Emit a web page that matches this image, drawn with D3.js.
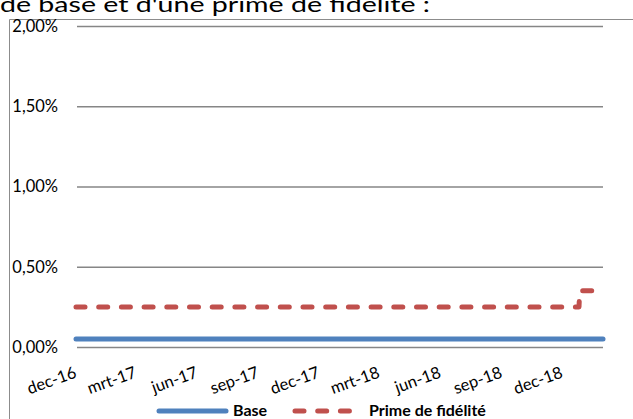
<!DOCTYPE html>
<html>
<head>
<meta charset="utf-8">
<script src="https://cdn.jsdelivr.net/npm/d3@7/dist/d3.min.js"></script>
<style>
  html, body { margin: 0; padding: 0; background: #fff; }
  svg { display: block; }
</style>
</head>
<body>
<svg id="chart" width="633" height="419"></svg>
<script>
// ---- data ----
const titleText = "de base et d'une prime de fidélité :";
const seriesNames = ["Base", "Prime de fidélité"];
const baseDates = ["2016-12-01", "2019-01-31"];
const baseValues = [0.0005, 0.0005];
const primeDates = ["2016-12-01", "2018-12-26", "2018-12-27", "2019-01-31"];
const primeValues = [0.0025, 0.0025, 0.0035, 0.0035];
const tickDates = ["2016-12-01", "2017-03-01", "2017-06-01", "2017-09-01", "2017-12-01",
                   "2018-03-01", "2018-06-01", "2018-09-01", "2018-12-01"];
const tickLabels = ["dec-16", "mrt-17", "jun-17", "sep-17", "dec-17",
                    "mrt-18", "jun-18", "sep-18", "dec-18"];
const yTicks = [0, 0.005, 0.01, 0.015, 0.02];

// ---- setup ----
const parse = d3.utcParse("%Y-%m-%d");
const svg = d3.select("#chart");
const font = "Lato, 'Open Sans', sans-serif";
const locale = d3.formatLocale({decimal: ",", thousands: ".", grouping: [3], currency: ["€", ""]});
const pct = locale.format(".2%");

const x = d3.scaleUtc().domain([parse("2016-12-01"), parse("2019-01-31")]).range([76, 603]);
const y = d3.scaleLinear().domain([0, 0.02]).range([347, 26]);

// title (cut at the top, as in the original)
svg.append("text").attr("x", 0).attr("y", 12)
  .attr("font-family", font).attr("font-size", 22).attr("fill", "#000")
  .attr("textLength", 430).attr("lengthAdjust", "spacingAndGlyphs")
  .text(titleText);

// chart frame
svg.append("path").attr("d", "M9.5,419 V19.5 H633")
  .attr("fill", "none").attr("stroke", "#8c8c8c").attr("stroke-width", 1);

// gridlines + y labels
const yAxis = d3.axisLeft(y).tickValues(yTicks).tickSize(-(603 - 77)).tickFormat(pct).tickPadding(19);
const gy = svg.append("g").attr("transform", "translate(77,0)").call(yAxis);
gy.select(".domain").remove();
gy.selectAll(".tick line").attr("stroke", "#868686").attr("stroke-width", 1.5);
gy.selectAll(".tick text").attr("font-family", font).attr("font-size", 16.5).attr("fill", "#000");

// x axis
const xAxis = d3.axisBottom(x).tickValues(tickDates.map(parse))
  .tickFormat((d, i) => tickLabels[i]).tickSize(0);
const gx = svg.append("g").attr("transform", "translate(0,347)").call(xAxis);
gx.select(".domain").remove();
gx.selectAll(".tick text")
  .attr("font-family", font).attr("font-size", 16.5).attr("fill", "#000")
  .attr("text-anchor", "end")
  .attr("dy", null).attr("y", 0)
  .attr("transform", "translate(1,30) rotate(-20)");

// lines
const line = d3.line().x(d => x(d[0])).y(d => y(d[1]));
const baseData = baseDates.map((d, i) => [parse(d), baseValues[i]]);
const primeData = primeDates.map((d, i) => [parse(d), primeValues[i]]);

svg.append("path").datum(baseData).attr("d", line)
  .attr("fill", "none").attr("stroke", "#4F81BD").attr("stroke-width", 5)
  .attr("stroke-linecap", "round").attr("stroke-linejoin", "round");
svg.append("path").datum(primeData).attr("d", line)
  .attr("fill", "none").attr("stroke", "#C0504D").attr("stroke-width", 5)
  .attr("stroke-linecap", "round").attr("stroke-linejoin", "round")
  .attr("stroke-dasharray", "9,13.7");

// legend
const lg = svg.append("g").attr("font-family", font).attr("font-size", 16).attr("font-weight", "bold");
lg.append("line").attr("x1", 159).attr("x2", 226).attr("y1", 411).attr("y2", 411)
  .attr("stroke", "#4F81BD").attr("stroke-width", 5).attr("stroke-linecap", "round");
lg.append("text").attr("x", 233).attr("y", 416).text(seriesNames[0]);
lg.append("line").attr("x1", 295).attr("x2", 351).attr("y1", 411).attr("y2", 411)
  .attr("stroke", "#C0504D").attr("stroke-width", 5).attr("stroke-linecap", "round")
  .attr("stroke-dasharray", "9,13.7");
lg.append("text").attr("x", 369).attr("y", 416).text(seriesNames[1]);
</script>
</body>
</html>
